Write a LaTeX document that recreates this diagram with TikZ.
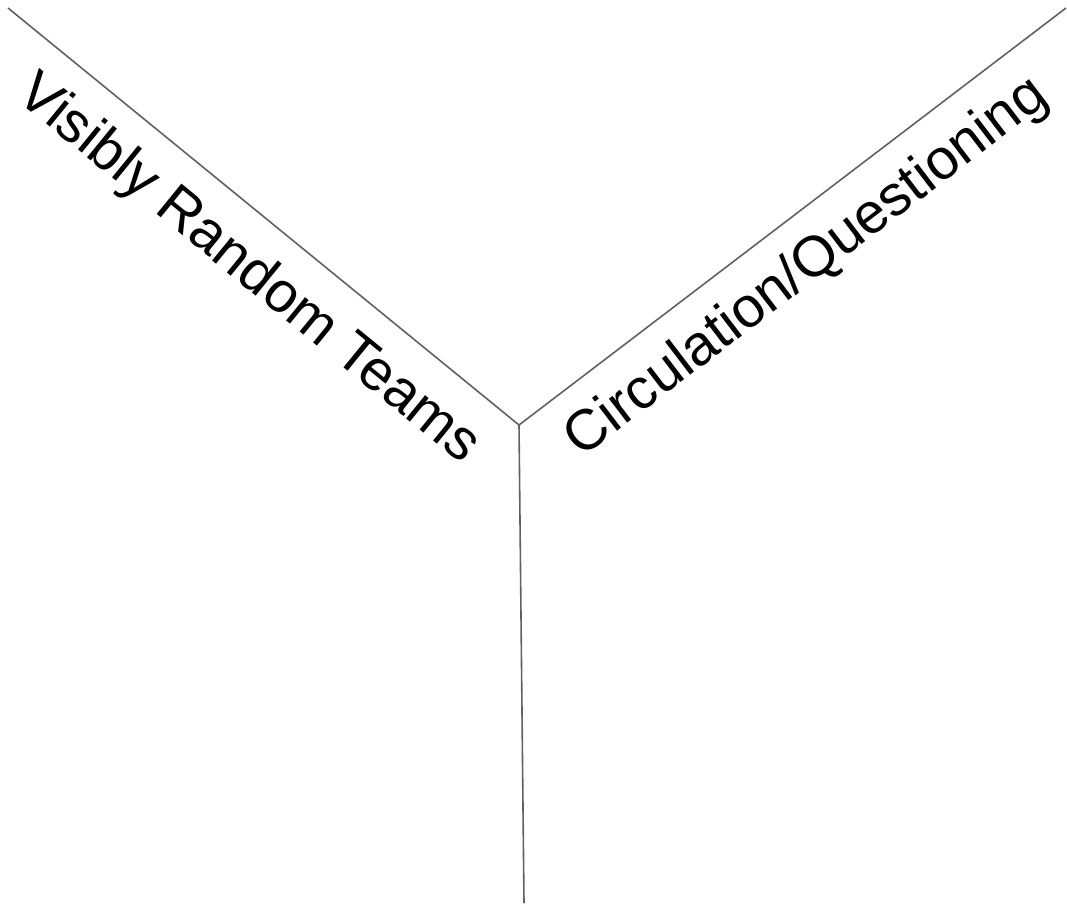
\documentclass[tikz,border=0pt]{standalone}
\usepackage{fontspec}
\setmainfont{Liberation Sans}
\begin{document}
\begin{tikzpicture}[x=1pt,y=-1pt,
  ray/.style={draw=black!62, line width=1.6pt},
  lab/.style={font=\fontsize{57}{62}\selectfont, inner sep=0pt}]
\useasboundingbox (0,0) rectangle (1067,903);
\coordinate (c) at (519,425);
\coordinate (l) at (8,8);
\coordinate (r) at (1066,8);
\coordinate (b) at (524,903);
\draw[ray] (l) -- (c) -- (r);
\draw[ray] (c) -- (b);
\node[lab, rotate=-39.2] (t1) at (248,270) {Visibly Random Teams};
\node[lab, rotate=37.3] (t2) at (807,268) {Circulation/Questioning};
\end{tikzpicture}
\end{document}
